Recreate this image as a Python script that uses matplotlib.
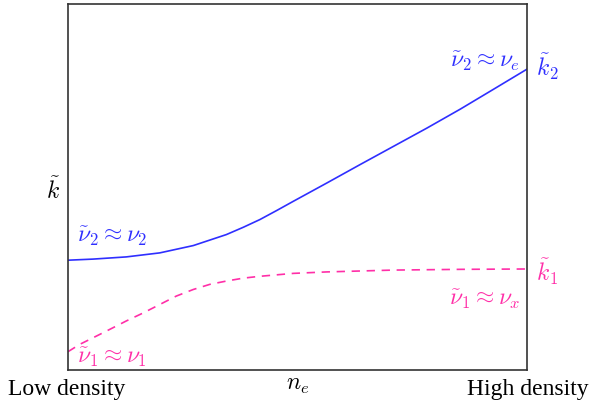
import matplotlib.pyplot as plt

plt.rcParams['mathtext.fontset'] = 'cm'
plt.rcParams['font.family'] = 'Liberation Serif'

# curves (axes fraction units)
x_heavy = [0, 0.0545, 0.127, 0.200, 0.273, 0.309, 0.345, 0.382, 0.418, 0.455,
           0.491, 0.564, 0.636, 0.709, 0.782, 0.855, 0.927, 1.0]
k_heavy = [0.300, 0.303, 0.309, 0.320, 0.340, 0.355, 0.370, 0.390, 0.411, 0.436,
           0.461, 0.511, 0.561, 0.611, 0.661, 0.713, 0.767, 0.822]

x_light = [0, 0.0255, 0.0545, 0.091, 0.127, 0.164, 0.200, 0.236, 0.273, 0.309,
           0.345, 0.382, 0.418, 0.491, 0.564, 0.709, 0.855, 1.0]
k_light = [0.050, 0.070, 0.088, 0.111, 0.134, 0.156, 0.179, 0.202, 0.220, 0.234,
           0.243, 0.251, 0.256, 0.264, 0.268, 0.273, 0.275, 0.276]

blue = '#2f2fff'
pink = '#ff2fa8'

fig = plt.figure(figsize=(5.92, 4.12), dpi=100)
ax = fig.add_axes([68/592, 1 - 370/412, 459/592, 366/412])
ax.plot(x_heavy, k_heavy, color=blue, lw=1.2)
ax.plot(x_light, k_light, color=pink, lw=1.2, ls=(0, (5, 4)))
ax.set_xlim(0, 1)
ax.set_ylim(0, 1)
ax.set_xticks([])
ax.set_yticks([])
for s in ax.spines.values():
    s.set_color('#333333')
    s.set_linewidth(1.2)

fs = 17
ax.text(0.985, 0.844, r'$\tilde{\nu}_2 \approx \nu_e$', color=blue, fontsize=fs,
        ha='right', va='center', transform=ax.transAxes)
ax.text(1.02, 0.83, r'$\tilde{k}_2$', color=blue, fontsize=fs,
        ha='left', va='center', transform=ax.transAxes)
ax.text(0.02, 0.366, r'$\tilde{\nu}_2 \approx \nu_2$', color=blue, fontsize=fs,
        ha='left', va='center', transform=ax.transAxes)
ax.text(1.02, 0.268, r'$\tilde{k}_1$', color=pink, fontsize=fs,
        ha='left', va='center', transform=ax.transAxes)
ax.text(0.985, 0.194, r'$\tilde{\nu}_1 \approx \nu_x$', color=pink, fontsize=fs,
        ha='right', va='center', transform=ax.transAxes)
ax.text(0.02, 0.036, r'$\tilde{\nu}_1 \approx \nu_1$', color=pink, fontsize=fs,
        ha='left', va='center', transform=ax.transAxes)

ax.text(-0.018, 0.49, r'$\tilde{k}$', fontsize=fs, ha='right', va='center',
        transform=ax.transAxes)
fig.text(8/592, 1 - 390/412, 'Low density', fontsize=17, ha='left', va='center')
fig.text(298/592, 1 - 386/412, r'$n_e$', fontsize=fs, ha='center', va='center')
fig.text(589/592, 1 - 390/412, 'High density', fontsize=17, ha='right', va='center')

fig.savefig('out.png', dpi=100)
